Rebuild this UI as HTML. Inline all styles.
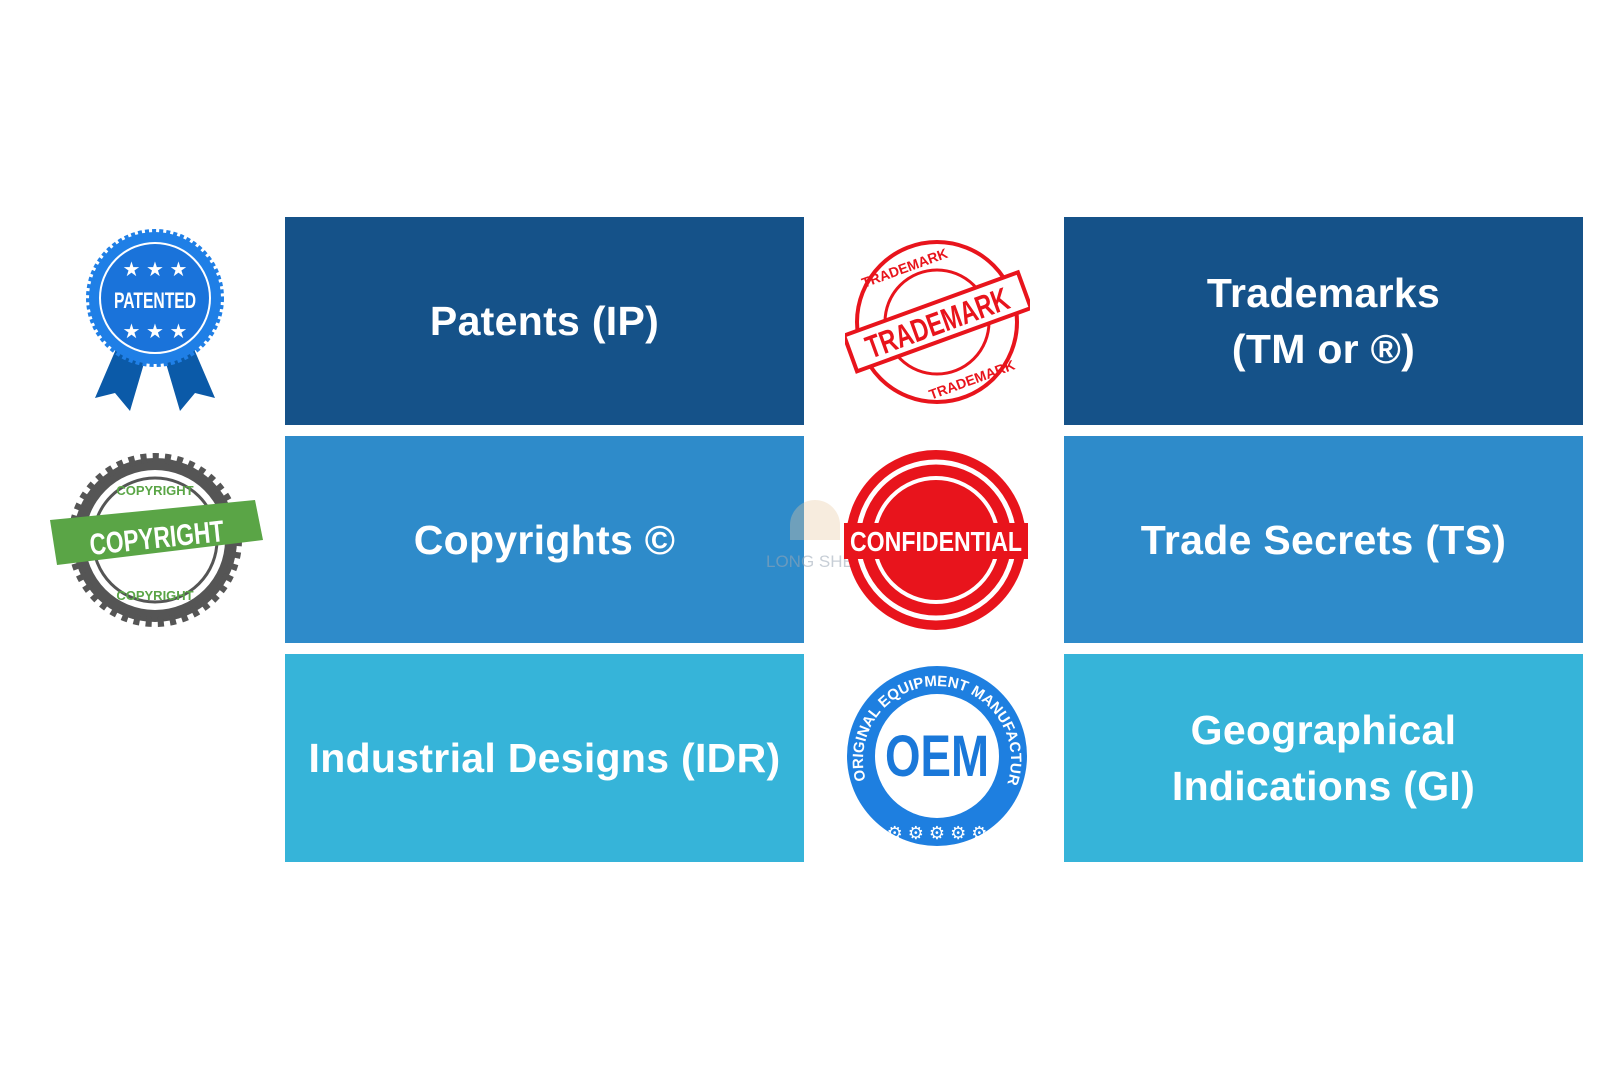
<!DOCTYPE html>
<html><head><meta charset="utf-8"><style>
html,body{margin:0;padding:0;background:#fff;width:1620px;height:1080px;overflow:hidden;position:relative;font-family:"Liberation Sans",sans-serif}
.b{position:absolute;display:flex;align-items:center;justify-content:center;text-align:center;color:#fff;font-weight:bold;font-size:41px;line-height:56px;letter-spacing:0.3px}
.r1{background:#155289;top:217px;height:208px}
.r2{background:#2e8bca;top:436px;height:207px}
.r3{background:#36b4d9;top:654px;height:208px}
.L{left:285px;width:519px}.R{left:1064px;width:519px}
svg{position:absolute}
</style></head><body>
<div class="b r1 L">Patents (IP)</div>
<div class="b r1 R">Trademarks<br>(TM or ®)</div>
<div class="b r2 L">Copyrights ©</div>
<div class="b r2 R">Trade Secrets (TS)</div>
<div class="b r3 L">Industrial Designs (IDR)</div>
<div class="b r3 R">Geographical<br>Indications (GI)</div>

<svg style="left:85px;top:228px" width="140" height="185" viewBox="0 0 140 185">
<polygon points="40,100 10,170 30,165 45,183 65,115" fill="#0b5aa8"/>
<polygon points="100,100 130,170 110,165 95,183 75,115" fill="#0b5aa8"/>
<circle cx="70" cy="70" r="66" fill="#1f7fe6" stroke="#1f7fe6" stroke-width="6" stroke-dasharray="4 3"/>
<circle cx="70" cy="70" r="55" fill="#1a73da" stroke="#fff" stroke-width="2"/>
<text x="70" y="80" fill="#fff" font-size="22" font-weight="bold" text-anchor="middle" textLength="82" lengthAdjust="spacingAndGlyphs">PATENTED</text>
<text x="70" y="48" fill="#fff" font-size="20" text-anchor="middle">★ ★ ★</text>
<text x="70" y="110" fill="#fff" font-size="20" text-anchor="middle">★ ★ ★</text>
</svg>

<svg style="left:45px;top:450px" width="220" height="180" viewBox="0 0 220 180">
<circle cx="110" cy="90" r="82" fill="#555" stroke="#555" stroke-width="10" stroke-dasharray="6 6"/>
<circle cx="110" cy="90" r="70" fill="#fff"/>
<circle cx="110" cy="90" r="62" fill="none" stroke="#555" stroke-width="3"/>
<polygon points="5,70 210,50 218,90 12,115" fill="#5aa546"/>
<text x="112" y="98" fill="#fff" font-size="30" font-weight="bold" text-anchor="middle" transform="rotate(-6 112 90)" textLength="135" lengthAdjust="spacingAndGlyphs">COPYRIGHT</text>
<text x="110" y="45" fill="#5aa546" font-size="13" font-weight="bold" text-anchor="middle">COPYRIGHT</text>
<text x="110" y="150" fill="#5aa546" font-size="13" font-weight="bold" text-anchor="middle">COPYRIGHT</text>
</svg>

<svg style="left:845px;top:237px" width="185" height="170" viewBox="0 0 185 170">
<circle cx="92" cy="85" r="80" fill="none" stroke="#e8141c" stroke-width="4"/>
<circle cx="92" cy="85" r="52" fill="none" stroke="#e8141c" stroke-width="3"/>
<g transform="rotate(-20 92 85)">
<rect x="0" y="66" width="185" height="38" fill="#fff" stroke="#e8141c" stroke-width="4"/>
<text x="92" y="97" fill="#e8141c" font-size="32" font-weight="bold" text-anchor="middle" textLength="150" lengthAdjust="spacingAndGlyphs">TRADEMARK</text>
</g>
<text x="80" y="28" fill="#e8141c" font-size="14" font-weight="bold" text-anchor="middle" transform="rotate(-20 92 85)">TRADEMARK</text>
<text x="105" y="156" fill="#e8141c" font-size="14" font-weight="bold" text-anchor="middle" transform="rotate(-20 92 85)">TRADEMARK</text>
</svg>

<div style="position:absolute;left:766px;top:552px;color:#9aa7b6;opacity:.55;font-size:17px">LONG SHEN</div>
<div style="position:absolute;left:790px;top:500px;width:50px;height:40px;border-radius:25px 25px 0 0;background:#e8c9a0;opacity:.35"></div>

<svg style="left:844px;top:448px" width="184" height="184" viewBox="0 0 184 184">
<circle cx="92" cy="92" r="90" fill="#e8141c"/>
<circle cx="92" cy="92" r="78" fill="none" stroke="#fff" stroke-width="5"/>
<circle cx="92" cy="92" r="62" fill="none" stroke="#fff" stroke-width="4"/>
<rect x="0" y="75" width="184" height="36" fill="#e8141c"/>
<text x="92" y="103" fill="#fff" font-size="28" font-weight="bold" text-anchor="middle" textLength="172" lengthAdjust="spacingAndGlyphs">CONFIDENTIAL</text>
</svg>

<svg style="left:845px;top:664px" width="184" height="184" viewBox="0 0 184 184">
<circle cx="92" cy="92" r="90" fill="#1e7fe0"/>
<circle cx="92" cy="92" r="62" fill="#fff"/>
<text x="92" y="112" fill="#1a78d9" font-size="58" font-weight="bold" text-anchor="middle" textLength="104" lengthAdjust="spacingAndGlyphs">OEM</text>
<path id="arc" d="M22,120 A74,74 0 1,1 162,120" fill="none"/>
<text fill="#fff" font-size="15" font-weight="bold"><textPath href="#arc" startOffset="4">ORIGINAL EQUIPMENT MANUFACTURER</textPath></text>
<text x="92" y="175" fill="#fff" font-size="18" text-anchor="middle">⚙ ⚙ ⚙ ⚙ ⚙</text>
</svg>
</body></html>
